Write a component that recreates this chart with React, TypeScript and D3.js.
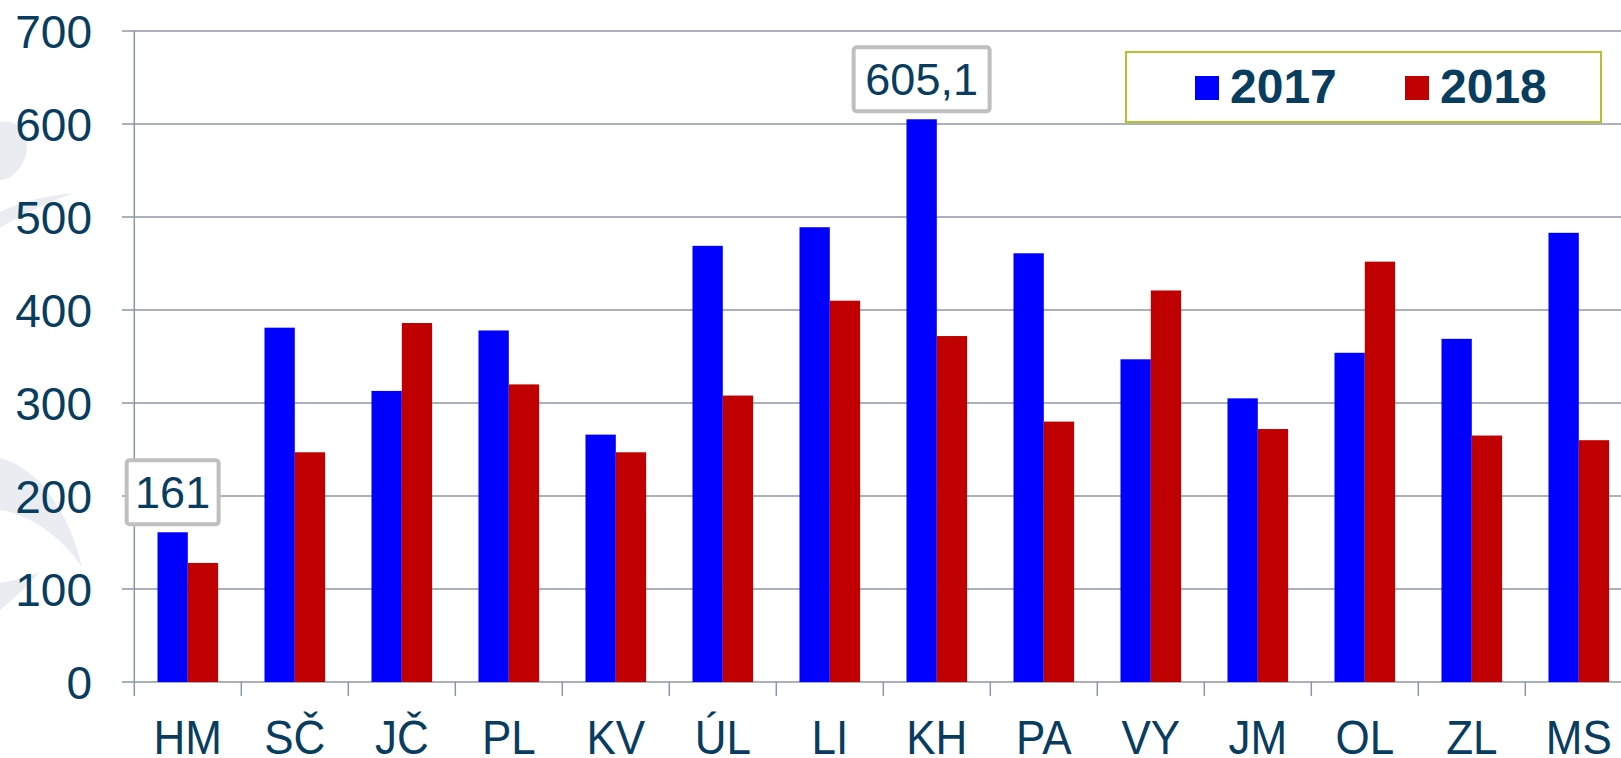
import { useEffect, useRef } from "react";
import * as d3 from "d3";

const regions = ["HM", "SČ", "JČ", "PL", "KV", "ÚL", "LI", "KH", "PA", "VY", "JM", "OL", "ZL", "MS"];
const years = ["2017", "2018"];
const values2017 = [161, 381, 313, 378, 266, 469, 489, 605.1, 461, 347, 305, 354, 369, 483];
const values2018 = [128, 247, 386, 320, 247, 308, 410, 372, 280, 421, 272, 452, 265, 260];
const yTicks = [0, 100, 200, 300, 400, 500, 600, 700];
const labelled = [
  { region: "HM", value: 161, text: "161" },
  { region: "KH", value: 605.1, text: "605,1" }
];

export default function App() {
  const ref = useRef<SVGSVGElement>(null);

  useEffect(() => {
    const svg = d3.select(ref.current);
    svg.selectAll("*").remove();

    const width = 1621;
    const font = "'Liberation Sans', Arial, sans-serif";
    const ink = "#083d5f";
    const colors = { "2017": "#0000ff", "2018": "#c00000" };

    const data = regions.flatMap((r, i) => [
      { region: r, year: "2017", value: values2017[i] },
      { region: r, year: "2018", value: values2018[i] }
    ]);

    // plot runs a little past the right edge of the picture, like the original
    const x0 = d3.scaleBand().domain(regions).range([134.3, 1632.3]).padding(0);
    const x1 = d3.scaleBand().domain(years).range([0, x0.bandwidth()]).paddingInner(0).paddingOuter(0.765);
    const y = d3.scaleLinear().domain([0, 700]).range([682, 31]);

    // faint background swoosh
    const bg = svg.append("g").attr("fill", "#e9edf2");
    bg.append("path").attr("d", "M0,122 C20,118 32,138 25,158 C18,176 6,180 0,180 Z");
    bg.append("path").attr("d", "M0,212 C25,200 50,195 74,193 C50,202 25,212 0,228 Z");
    bg.append("path").attr("d", "M0,458 C40,468 70,515 82,567 C60,535 30,515 0,510 Z");
    bg.append("path").attr("d", "M0,583 C15,580 28,577 40,572 C28,585 15,598 0,610 Z");

    // gridlines + y ticks
    svg.append("g")
      .selectAll("line")
      .data(yTicks)
      .join("line")
      .attr("x1", 122)
      .attr("x2", width)
      .attr("y1", d => y(d))
      .attr("y2", d => y(d))
      .attr("stroke", "#8f96a3")
      .attr("stroke-width", 1.5);

    svg.append("g")
      .selectAll("text")
      .data(yTicks)
      .join("text")
      .attr("x", 92)
      .attr("y", d => y(d))
      .attr("dy", "0.36em")
      .attr("text-anchor", "end")
      .attr("font-family", font)
      .attr("font-size", 46)
      .attr("fill", ink)
      .text(d => d);

    // y axis line
    svg.append("line")
      .attr("x1", 134.3).attr("x2", 134.3)
      .attr("y1", y(700)).attr("y2", y(0) + 14)
      .attr("stroke", "#8f96a3").attr("stroke-width", 1.5);

    // category ticks
    svg.append("g")
      .selectAll("line")
      .data(regions.slice(1))
      .join("line")
      .attr("x1", d => x0(d)!)
      .attr("x2", d => x0(d)!)
      .attr("y1", y(0))
      .attr("y2", y(0) + 14)
      .attr("stroke", "#8f96a3")
      .attr("stroke-width", 1.5);

    // category labels (slightly stretched vertically, as in the original)
    svg.append("g")
      .selectAll("text")
      .data(regions)
      .join("text")
      .attr("transform", d => `translate(${x0(d)! + x0.bandwidth() / 2},754) scale(1,1.1)`)
      .attr("text-anchor", "middle")
      .attr("font-family", font)
      .attr("font-size", 44)
      .attr("fill", ink)
      .text(d => d);

    // bars
    svg.append("g")
      .selectAll("rect")
      .data(data)
      .join("rect")
      .attr("x", d => x0(d.region)! + x1(d.year)!)
      .attr("y", d => y(d.value))
      .attr("width", x1.bandwidth())
      .attr("height", d => y(0) - y(d.value))
      .attr("fill", d => colors[d.year as "2017" | "2018"]);

    // value callouts
    const lab = svg.append("g")
      .selectAll("g")
      .data(labelled)
      .join("g")
      .attr("transform", d => `translate(${x0(d.region)! + x1("2017")! + x1.bandwidth() / 2},${y(d.value) - 8})`);

    lab.append("rect")
      .attr("x", d => -(d.text.length * 22 + 26) / 2)
      .attr("y", -64)
      .attr("width", d => d.text.length * 22 + 26)
      .attr("height", 64)
      .attr("rx", 3)
      .attr("fill", "#fff")
      .attr("stroke", "#bfbfbf")
      .attr("stroke-width", 4);

    lab.append("text")
      .attr("x", 0)
      .attr("y", -16)
      .attr("text-anchor", "middle")
      .attr("font-family", font)
      .attr("font-size", 45)
      .attr("fill", ink)
      .text(d => d.text);

    // legend
    const legend = svg.append("g");
    legend.append("rect")
      .attr("x", 1126).attr("y", 52)
      .attr("width", 475).attr("height", 70)
      .attr("fill", "#fff")
      .attr("stroke", "#b8bf2c")
      .attr("stroke-width", 2);

    const items = legend.selectAll("g.item")
      .data(years)
      .join("g")
      .attr("transform", (d, i) => `translate(${1195 + i * 210},0)`);

    items.append("rect")
      .attr("x", 0).attr("y", 76)
      .attr("width", 24).attr("height", 24)
      .attr("fill", d => colors[d as "2017" | "2018"]);

    items.append("text")
      .attr("x", 35)
      .attr("y", 103)
      .attr("font-family", font)
      .attr("font-size", 48)
      .attr("font-weight", "bold")
      .attr("fill", ink)
      .text(d => d);
  }, []);

  return (
    <svg
      ref={ref}
      width={1621}
      height={758}
      style={{ position: "absolute", left: 0, top: 0, background: "#fff" }}
    />
  );
}
